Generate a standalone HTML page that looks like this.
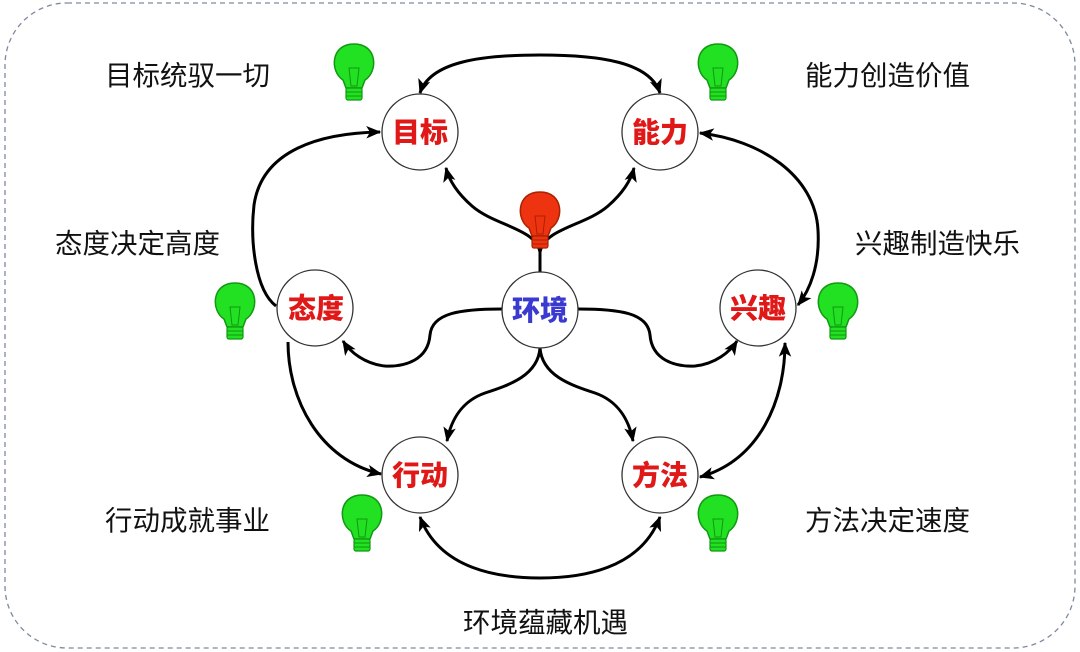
<!DOCTYPE html>
<html><head><meta charset="utf-8"><style>
html,body{margin:0;padding:0;background:#fff;}
svg{display:block;}
.lab{font-family:"Liberation Sans","Noto Sans CJK SC",sans-serif;font-size:27.5px;fill:#111;}
.nd{font-family:"Liberation Sans","Noto Sans CJK SC",sans-serif;font-size:28px;font-weight:900;fill:#e01818;text-anchor:middle;}
</style></head><body>
<svg width="1080" height="652" viewBox="0 0 1080 652" xmlns="http://www.w3.org/2000/svg">
<defs>
<marker id="a" viewBox="0 0 12 10" refX="11" refY="5" markerWidth="5" markerHeight="5" orient="auto-start-reverse" markerUnits="strokeWidth">
<path d="M0,0 L12,5 L0,10 L3,5 Z" fill="#000"/>
</marker>
<g id="bulb">
<path d="M-11,14 C-24,6 -24,-22 0,-22 C24,-22 24,6 11,14 L8,22 L-8,22 Z" fill="#22e022" stroke="#119911" stroke-width="1.5"/>
<path d="M-5,2 L5,2 L3,20 L-3,20 Z" fill="none" stroke="#119911" stroke-width="1"/>
<rect x="-8" y="22" width="16" height="12" rx="2" fill="#22e022" stroke="#119911" stroke-width="1.2"/>
<line x1="-8" y1="26" x2="8" y2="26" stroke="#119911" stroke-width="1"/>
<line x1="-8" y1="30" x2="8" y2="30" stroke="#119911" stroke-width="1"/>
</g>
<g id="rbulb">
<path d="M-11,14 C-24,6 -24,-22 0,-22 C24,-22 24,6 11,14 L8,22 L-8,22 Z" fill="#ee3311" stroke="#aa2200" stroke-width="1.5"/>
<path d="M-5,2 L5,2 L3,20 L-3,20 Z" fill="none" stroke="#aa2200" stroke-width="1"/>
<rect x="-8" y="22" width="16" height="12" rx="2" fill="#ee3311" stroke="#aa2200" stroke-width="1.2"/>
<line x1="-8" y1="26" x2="8" y2="26" stroke="#aa2200" stroke-width="1"/>
<line x1="-8" y1="30" x2="8" y2="30" stroke="#aa2200" stroke-width="1"/>
</g>
</defs>
<rect x="5" y="3" width="1070" height="645" rx="62" fill="none" stroke="#7b8aa0" stroke-width="1.3" stroke-dasharray="5,4"/>

<g fill="none" stroke="#000" stroke-width="3">
<path d="M420,93 C430,62 480,55 540,55 C600,55 650,62 660,93" marker-start="url(#a)" marker-end="url(#a)"/>
<path d="M420,517 C440,570 500,578 540,578 C580,578 640,570 660,517" marker-start="url(#a)" marker-end="url(#a)"/>
<path d="M276,306 C255,290 250,240 254,205 C262,150 320,133 380,132" marker-end="url(#a)"/>
<path d="M288,342 C288,400 320,460 381,474" marker-end="url(#a)"/>
<path d="M700,133 C760,140 815,175 818,230 C820,265 810,290 798,305" marker-start="url(#a)" marker-end="url(#a)"/>
<path d="M785,343 C785,400 760,460 700,477" marker-start="url(#a)" marker-end="url(#a)"/>
<path d="M540,272 L540,252 C535,228 495,226 472,206 C456,192 449,180 446,168" marker-end="url(#a)"/>
<path d="M540,252 C545,228 585,226 608,206 C624,192 631,180 634,168" marker-end="url(#a)"/>
<path d="M502,309 C460,309 432,313 430,335 C428,360 405,367 385,366 C365,364 350,352 343,341" marker-end="url(#a)"/>
<path d="M578,309 C620,309 648,313 650,335 C652,360 675,367 695,366 C715,364 730,352 737,341" marker-end="url(#a)"/>
<path d="M540,348 C538,375 510,385 485,393 C462,401 451,420 447,441" marker-end="url(#a)"/>
<path d="M540,348 C542,375 570,385 595,393 C618,401 629,420 633,441" marker-end="url(#a)"/>
</g>

<g fill="#fff" stroke="#333" stroke-width="1.3">
<circle cx="420" cy="132" r="38"/>
<circle cx="660" cy="132" r="38"/>
<circle cx="315" cy="308" r="38"/>
<circle cx="540" cy="310" r="38"/>
<circle cx="758" cy="308" r="38"/>
<circle cx="420" cy="475" r="38"/>
<circle cx="660" cy="475" r="38"/>
</g>
<text class="nd" x="420" y="142">目标</text>
<text class="nd" x="660" y="142">能力</text>
<text class="nd" x="316" y="318">态度</text>
<text class="nd" x="540" y="320" style="fill:#3a3ad0">环境</text>
<text class="nd" x="758" y="318">兴趣</text>
<text class="nd" x="420" y="485">行动</text>
<text class="nd" x="660" y="485">方法</text>

<use href="#bulb" x="354" y="66"/>
<use href="#bulb" x="718" y="66"/>
<use href="#bulb" x="235" y="305"/>
<use href="#bulb" x="838" y="305"/>
<use href="#bulb" x="362" y="517"/>
<use href="#bulb" x="718" y="517"/>
<use href="#rbulb" x="540" y="214"/>

<text class="lab" x="105" y="85">目标统驭一切</text>
<text class="lab" x="805" y="85">能力创造价值</text>
<text class="lab" x="55" y="253">态度决定高度</text>
<text class="lab" x="855" y="253">兴趣制造快乐</text>
<text class="lab" x="105" y="530">行动成就事业</text>
<text class="lab" x="805" y="530">方法决定速度</text>
<text class="lab" x="463" y="632">环境蕴藏机遇</text>
</svg>
</body></html>
